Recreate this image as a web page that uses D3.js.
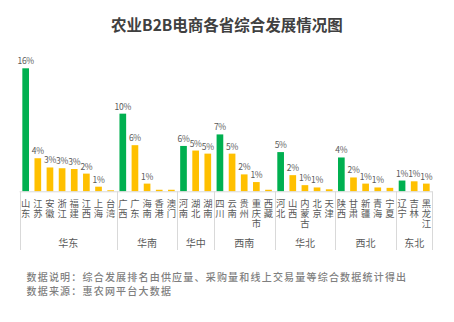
<!DOCTYPE html>
<html><head><meta charset="utf-8">
<script src="https://cdn.jsdelivr.net/npm/d3@7/dist/d3.min.js"></script>
<style>
body{margin:0;background:#fff;}
svg{display:block;font-family:"Noto Sans CJK SC","Noto Sans",sans-serif;}
</style></head>
<body><svg id="c" width="454" height="322"></svg>
<script>
const provinces = ["山东","江苏","安徽","浙江","福建","江西","上海","台湾",
  "广西","广东","海南","香港","澳门",
  "河南","湖北","湖南",
  "四川","云南","贵州","重庆市","西藏",
  "河北","山西","内蒙古","北京","天津",
  "陕西","甘肃","新疆","青海","宁夏",
  "辽宁","吉林","黑龙江"];
const regions = ["华东","华南","华中","西南","华北","西北","东北"];
const regionSizes = [8,5,3,5,5,5,3];
const values = [16.0,4.3,3.1,3.0,2.9,2.3,0.6,0.13,
  10.1,6.0,1.0,0.2,0.2,
  5.9,5.3,4.9,
  7.4,4.9,2.2,1.2,0.2,
  5.1,2.1,0.8,0.5,0.26,
  4.4,1.8,1.0,0.5,0.45,
  1.4,1.3,1.0];
const title = "农业B2B电商各省综合发展情况图";
const notes = ["数据说明：综合发展排名由供应量、采购量和线上交易量等综合数据统计得出","数据来源：惠农网平台大数据"];

const svg = d3.select("#c");
const plotLeft = 19.6, plotRight = 432.4, base = 191.3, plotTop = 68.3;
const x = d3.scaleBand().domain(provinces).range([plotLeft,plotRight]).paddingInner(0.45).paddingOuter(0.225);
const y = d3.scaleLinear().domain([0,16]).range([base, plotTop]);

svg.append("text").attr("x",227).attr("y",31).attr("text-anchor","middle")
  .attr("font-size",15.5).attr("font-weight","bold").attr("fill","#404040").text(title);

// first in each region is green
const firstIdx = new Set(); let acc=0; regionSizes.forEach(s=>{firstIdx.add(acc); acc+=s;});

svg.selectAll("rect.bar").data(provinces).join("rect").attr("class","bar")
  .attr("x",d=>x(d)).attr("width",x.bandwidth())
  .attr("y",(d,i)=>y(values[i])).attr("height",(d,i)=>base-y(values[i]))
  .attr("fill",(d,i)=>firstIdx.has(i)?"#00b050":"#ffc000");

svg.selectAll("text.val").data(provinces).join("text").attr("class","val")
  .attr("x",d=>x(d)+x.bandwidth()/2).attr("y",(d,i)=>y(values[i])-4)
  .attr("text-anchor","middle").attr("font-size",8.5).attr("fill","#595959")
  .attr("letter-spacing",-0.3)
  .text((d,i)=>values[i]>=0.5?Math.round(values[i])+"%":"");

// axis line
svg.append("line").attr("x1",plotLeft).attr("x2",plotRight).attr("y1",base+0.5).attr("y2",base+0.5)
  .attr("stroke","#d9d9d9").attr("stroke-width",1);

// province labels (vertical text)
svg.selectAll("text.pl").data(provinces).join("text").attr("class","pl")
  .attr("x",d=>x(d)+x.bandwidth()/2).attr("y",198.5)
  .attr("writing-mode","vertical-rl").style("writing-mode","vertical-rl")
  .attr("letter-spacing",0.7)
  .attr("font-size",9.3).attr("fill","#595959").text(d=>d);

// region separators and labels
const step = x.step();
let start = 0;
const bounds = [];
regionSizes.forEach((s,i)=>{ bounds.push([start, start+s]); start+=s; });
const edges = [0].concat(bounds.map(b=>b[1]));
svg.selectAll("line.sep").data(edges).join("line").attr("class","sep")
  .attr("x1",e=>Math.round(plotLeft+e*step)+0.5).attr("x2",e=>Math.round(plotLeft+e*step)+0.5)
  .attr("y1",base).attr("y2",250).attr("stroke","#d9d9d9").attr("stroke-width",1);
svg.selectAll("text.reg").data(regions).join("text").attr("class","reg")
  .attr("x",(r,i)=>plotLeft+(bounds[i][0]+bounds[i][1])/2*step).attr("y",247)
  .attr("text-anchor","middle").attr("font-size",10).attr("fill","#595959").text(r=>r);

svg.selectAll("text.note").data(notes).join("text").attr("class","note")
  .attr("x",26.5).attr("y",(d,i)=>280.5+i*14.6).attr("font-size",10)
  .attr("letter-spacing",1.2)
  .attr("font-weight","500").attr("fill","#7f7f7f").text(d=>d);
</script></body></html>
